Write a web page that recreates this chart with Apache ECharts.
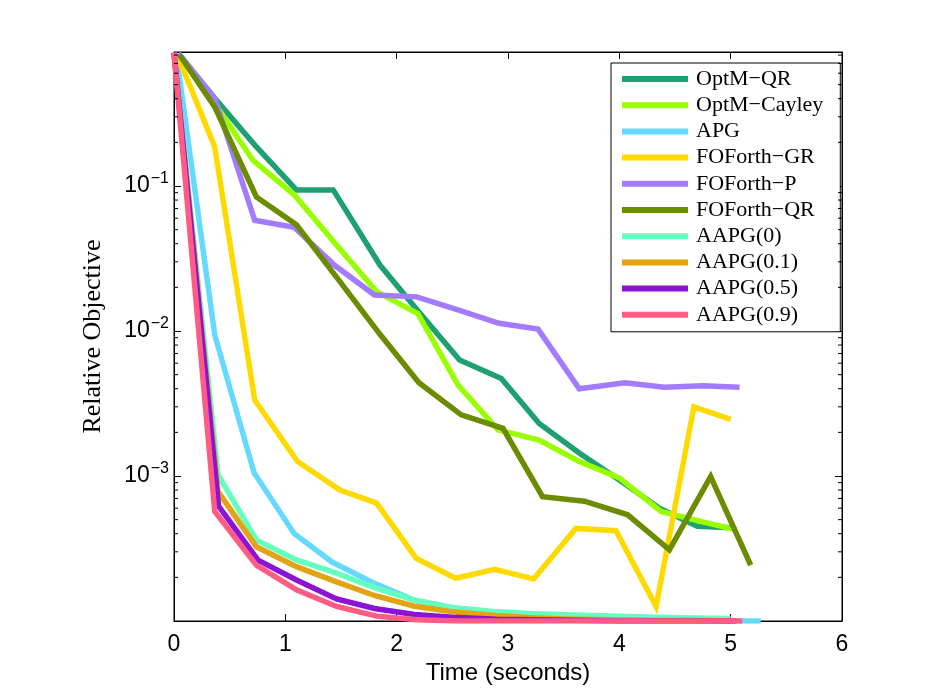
<!DOCTYPE html>
<html>
<head>
<meta charset="utf-8">
<script src="https://cdn.jsdelivr.net/npm/echarts@6/dist/echarts.min.js"></script>
<style>
html,body{margin:0;padding:0;background:#fff;}
#chart{width:930px;height:700px;}
</style>
</head>
<body>
<div id="chart"></div>
<script>
// ---------------- data ----------------
var seriesNames = ['OptM\u2212QR','OptM\u2212Cayley','APG','FOForth\u2212GR','FOForth\u2212P','FOForth\u2212QR','AAPG(0)','AAPG(0.1)','AAPG(0.5)','AAPG(0.9)'];
var seriesColors = ['#1FA073','#99FF00','#66D9FF','#FFDA00','#A37BFF','#6B8C00','#66FFBF','#E3A414','#8C12D6','#FF5C85'];

var tOptmQR = [0.04, 0.37, 0.73, 1.10, 1.43, 1.85, 2.20, 2.565, 2.94, 3.28, 3.64, 4.00, 4.36, 4.70, 5.02];
var vOptmQR = [0.82, 0.40, 0.19, 0.094, 0.094, 0.0285, 0.0135, 0.0063, 0.0047, 0.0023, 0.00144, 0.00094, 0.00060, 0.00045, 0.00044];

var tOptmCayley = [0.04, 0.367, 0.71, 1.08, 1.45, 1.82, 2.19, 2.55, 2.91, 3.28, 3.64, 4.00, 4.375, 4.71, 5.05];
var vOptmCayley = [0.82, 0.37, 0.15, 0.087, 0.040, 0.0187, 0.0132, 0.00425, 0.00208, 0.00177, 0.00126, 0.00097, 0.00057, 0.00049, 0.000425];

var tAPG = [0.02, 0.366, 0.72, 1.08, 1.42, 1.78, 2.15, 2.50, 2.87, 3.23, 3.60, 3.97, 4.33, 4.70, 5.05, 5.27];
var vAPG = [0.82, 0.0094, 0.00105, 0.00040, 0.000255, 0.000185, 0.000140, 0.000122, 0.000112, 0.000108, 0.000105, 0.000103, 0.000102, 0.000101, 0.000100, 0.000100];

var tFOGR = [0.03, 0.365, 0.725, 1.11, 1.49, 1.82, 2.176, 2.53, 2.88, 3.23, 3.61, 3.97, 4.33, 4.67, 5.00];
var vFOGR = [0.80, 0.187, 0.00334, 0.00126, 0.00080, 0.00065, 0.00027, 0.000197, 0.000227, 0.000195, 0.000435, 0.00042, 0.000126, 0.0030, 0.00246];

var tFOP = [0.04, 0.367, 0.725, 1.08, 1.44, 1.80, 2.18, 2.55, 2.92, 3.27, 3.64, 4.05, 4.405, 4.75, 5.08];
var vFOP = [0.82, 0.40, 0.058, 0.052, 0.0285, 0.0177, 0.0172, 0.0140, 0.0113, 0.0103, 0.0040, 0.0044, 0.0041, 0.0042, 0.0041];

var tFOQR = [0.05, 0.367, 0.74, 1.10, 1.47, 1.845, 2.20, 2.58, 2.955, 3.31, 3.687, 4.075, 4.45, 4.82, 5.18];
var vFOQR = [0.80, 0.35, 0.084, 0.054, 0.023, 0.0096, 0.0044, 0.00264, 0.00213, 0.00072, 0.00067, 0.00054, 0.00031, 0.00099, 0.000243];

var tAAPG0 = [0.0, 0.396, 0.74, 1.10, 1.46, 1.80, 2.15, 2.50, 2.89, 3.25, 3.60, 4.00, 4.35, 4.70, 5.00];
var vAAPG0 = [0.83, 0.00102, 0.000362, 0.000264, 0.000214, 0.000170, 0.000140, 0.000124, 0.000116, 0.000112, 0.000110, 0.000108, 0.000106, 0.000105, 0.000104];

var tAAPG01 = [0.0, 0.396, 0.74, 1.10, 1.46, 1.80, 2.15, 2.50, 2.89, 3.25, 3.60, 4.00, 4.35, 4.70, 5.00];
var vAAPG01 = [0.83, 0.00078, 0.000325, 0.000237, 0.000186, 0.000150, 0.000127, 0.000116, 0.000109, 0.000105, 0.000103, 0.000102, 0.000101, 0.000101, 0.000100];

var tAAPG05 = [0.0, 0.40, 0.755, 1.10, 1.46, 1.80, 2.16, 2.50, 2.90, 3.25, 3.60, 4.00, 4.35, 4.70, 5.05];
var vAAPG05 = [0.83, 0.00062, 0.000263, 0.000192, 0.000142, 0.000122, 0.000111, 0.000106, 0.000103, 0.000102, 0.000101, 0.000100, 0.000100, 0.000100, 0.000100];

var tAAPG09 = [0.0, 0.366, 0.74, 1.10, 1.46, 1.82, 2.18, 2.55, 2.90, 3.25, 3.60, 4.00, 4.35, 4.70, 5.105];
var vAAPG09 = [0.83, 0.00057, 0.000243, 0.000164, 0.000126, 0.000108, 0.000102, 0.000100, 0.000100, 0.000100, 0.000100, 0.000100, 0.000100, 0.000100, 0.000100];

var xTickLabels = ['0','1','2','3','4','5','6'];
var yTickExponents = [-1, -2, -3];
var yMin = 1e-4, yMax = 0.84;
var minorMantissas = [2,3,4,5,6,7,8,9];
var minorDecades = [-4,-3,-2,-1];

// --------------- build ---------------
var allT = [tOptmQR,tOptmCayley,tAPG,tFOGR,tFOP,tFOQR,tAAPG0,tAAPG01,tAAPG05,tAAPG09];
var allV = [vOptmQR,vOptmCayley,vAPG,vFOGR,vFOP,vFOQR,vAAPG0,vAAPG01,vAAPG05,vAAPG09];

var series = [];
for (var i = 0; i < seriesNames.length; i++) {
  var d = [];
  for (var j = 0; j < allT[i].length; j++) d.push([allT[i][j], allV[i][j]]);
  series.push({
    name: seriesNames[i], type: 'line', data: d,
    showSymbol: false, symbol: 'none', clip: true,
    itemStyle: {color: seriesColors[i]},
    lineStyle: {color: seriesColors[i], width: 5.5, cap: 'butt', join: 'miter'},
    emphasis: {disabled: true}, z: 2 + i
  });
}

var minorData = [];
minorDecades.forEach(function (e) {
  minorMantissas.forEach(function (m) {
    var v = m * Math.pow(10, e);
    if (v < yMax) minorData.push([0, v]);
  });
});
series.push({
  type: 'custom', name: 'minorTicks', silent: true, z: 20,
  data: minorData, encode: {x: 0, y: 1},
  renderItem: function (params, api) {
    var v = api.value(1);
    var pl = api.coord([0, v]);
    var pr = api.coord([6, v]);
    return {
      type: 'group',
      children: [
        {type: 'line', shape: {x1: pl[0], y1: pl[1], x2: pl[0] + 4, y2: pl[1]}, style: {stroke: '#000', lineWidth: 1}},
        {type: 'line', shape: {x1: pr[0], y1: pr[1], x2: pr[0] - 4, y2: pr[1]}, style: {stroke: '#000', lineWidth: 1}}
      ]
    };
  }
});

function yFmt(v) {
  var e = Math.log(v) / Math.LN10;
  var r = Math.round(e);
  if (Math.abs(e - r) > 1e-6) return '';
  if (yTickExponents.indexOf(r) < 0) return '';
  return '{b|10}{s|\u2212' + (-r) + '}';
}

var option = {
  animation: false,
  backgroundColor: '#fff',
  grid: {left: 174, right: 88, top: 52, bottom: 79, show: true, borderColor: '#000', borderWidth: 1, backgroundColor: 'transparent'},
  legend: {
    data: seriesNames, orient: 'vertical', left: 611, top: 63,
    padding: [5, 17, 6, 11], itemGap: 4.2, itemWidth: 66, itemHeight: 6,
    icon: 'rect', borderColor: '#000', borderWidth: 1, backgroundColor: '#fff',
    selectedMode: false,
    textStyle: {fontFamily: 'Liberation Serif', fontSize: 22, color: '#000', lineHeight: 22, padding: [0, 0, 0, 3]}
  },
  xAxis: [{
    type: 'value', min: 0, max: 6, interval: 1, position: 'bottom',
    name: 'Time (seconds)', nameLocation: 'middle', nameGap: 33,
    nameTextStyle: {fontFamily: 'Liberation Sans', fontSize: 24, color: '#000'},
    axisLine: {show: true, onZero: false, lineStyle: {color: '#000', width: 1}},
    axisTick: {show: true, inside: true, length: 7, lineStyle: {color: '#000'}},
    axisLabel: {margin: 12, fontFamily: 'Liberation Sans', fontSize: 23, color: '#000',
      formatter: function (v) { return xTickLabels[Math.round(v)] || ''; }},
    splitLine: {show: false}
  }, {
    type: 'value', min: 0, max: 6, interval: 1, position: 'top',
    axisLine: {show: true, onZero: false, lineStyle: {color: '#000', width: 1}},
    axisTick: {show: true, inside: true, length: 7, lineStyle: {color: '#000'}},
    axisLabel: {show: false}, splitLine: {show: false}
  }],
  yAxis: [{
    type: 'log', logBase: 10, min: yMin, max: yMax, position: 'left',
    name: 'Relative Objective', nameLocation: 'middle', nameGap: 68, nameRotate: 90,
    nameTextStyle: {fontFamily: 'Liberation Serif', fontSize: 26, color: '#000'},
    axisLine: {show: true, onZero: false, lineStyle: {color: '#000', width: 1}},
    axisTick: {show: true, inside: true, length: 7, lineStyle: {color: '#000'}},
    axisLabel: {margin: 5, formatter: yFmt, color: '#000',
      rich: {
        b: {fontFamily: 'Liberation Sans', fontSize: 23, color: '#000'},
        s: {fontFamily: 'Liberation Sans', fontSize: 16, color: '#000', padding: [0, 0, 14, 1]}
      }},
    splitLine: {show: false}
  }, {
    type: 'log', logBase: 10, min: yMin, max: yMax, position: 'right',
    axisLine: {show: true, onZero: false, lineStyle: {color: '#000', width: 1}},
    axisTick: {show: true, inside: true, length: 7, lineStyle: {color: '#000'}},
    axisLabel: {show: false}, splitLine: {show: false}
  }],
  series: series
};

var chart = echarts.init(document.getElementById('chart'), null, {renderer: 'canvas'});
chart.setOption(option);
</script>
</body>
</html>
